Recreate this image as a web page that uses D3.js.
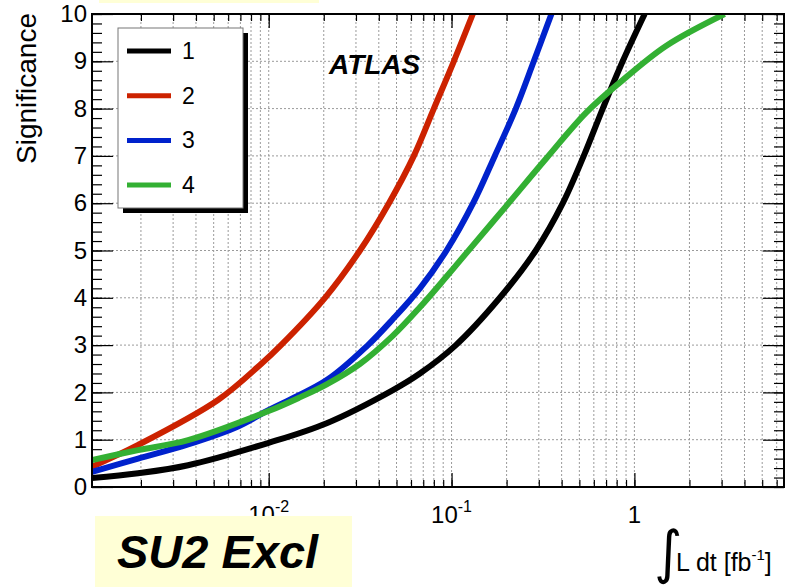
<!DOCTYPE html>
<html>
<head>
<meta charset="utf-8">
<script src="https://cdn.jsdelivr.net/npm/d3@7"></script>
<style>
  body { margin: 0; background: #fff; }
  text { font-family: "Liberation Sans", Arial, Helvetica, sans-serif; }
</style>
</head>
<body>
<div id="chart"></div>
<script>
// significance vs integrated luminosity, SU2 exclusive
var lumi1 = [0.00108, 0.00193, 0.00362, 0.0099, 0.02075, 0.0478, 0.0671, 0.1056, 0.1836, 0.2888, 0.4058, 0.5284, 0.6714, 0.863, 1.138]
var sig1  = [0.19, 0.29, 0.46, 0.93, 1.35, 2.05, 2.4, 3.0, 4.0, 5.0, 6.0, 7.0, 8.0, 9.0, 10.0]

var lumi2 = [0.00108, 0.00193, 0.00528, 0.00896, 0.01167, 0.02031, 0.03155, 0.04544, 0.0622, 0.08, 0.1029, 0.1307]
var sig2  = [0.43, 0.89, 1.84, 2.58, 3.0, 4.0, 5.0, 6.0, 7.0, 8.0, 9.0, 10.0]

var lumi3 = [0.00108, 0.00193, 0.00362, 0.0068, 0.0099, 0.02075, 0.0349, 0.0478, 0.0671, 0.0939, 0.1312, 0.1724, 0.2246, 0.2817, 0.3518]
var sig3  = [0.32, 0.6, 0.9, 1.28, 1.62, 2.26, 3.0, 3.55, 4.2, 5.0, 6.0, 7.0, 8.0, 9.0, 10.0]

var lumi4 = [0.00108, 0.00193, 0.00362, 0.0099, 0.0149, 0.02075, 0.0315, 0.0478, 0.0671, 0.0939, 0.1208, 0.2, 0.3302, 0.5465, 0.8316, 1.496, 3.113]
var sig4  = [0.57, 0.78, 0.99, 1.6, 1.9, 2.17, 2.6, 3.2, 3.8, 4.45, 4.95, 5.95, 6.95, 7.92, 8.55, 9.33, 10.0]

var seriesNames = ["1", "2", "3", "4"]
var seriesColors = ["#000000", "#cc2200", "#0022cc", "#33b033"]

var xTickVals = [0.01, 0.1, 1]
var xTickBase = ["10", "10", "1"]
var xTickExp  = ["-2", "-1", ""]
var yTickVals = [0, 1, 2, 3, 4, 5, 6, 7, 8, 9, 10]

var W = 798, H = 587
var padL = 92, padR = 784, padT = 14, padB = 487

var svg = d3.select("#chart").append("svg")
    .attr("width", W)
    .attr("height", H)

var x = d3.scaleLog().domain([0.00108, 6.58]).range([padL, padR])
var y = d3.scaleLinear().domain([0, 10]).range([padB, padT])

// grid (dotted)
var grid = svg.append("g")
grid.selectAll("line.vx")
  .data(x.ticks())
  .enter().append("line")
    .attr("x1", function(d) { return x(d) }).attr("x2", function(d) { return x(d) })
    .attr("y1", padT).attr("y2", padB)
    .attr("stroke", "#9a9a9a").attr("stroke-width", 1).attr("stroke-dasharray", "2,2")
grid.selectAll("line.hy")
  .data(yTickVals.slice(1, -1))
  .enter().append("line")
    .attr("x1", padL).attr("x2", padR)
    .attr("y1", function(d) { return y(d) }).attr("y2", function(d) { return y(d) })
    .attr("stroke", "#9a9a9a").attr("stroke-width", 1).attr("stroke-dasharray", "2,2")

// ticks on all four sides
function noText(g) { g.select(".domain").remove(); g.selectAll("text").remove() }

svg.append("g").attr("transform", "translate(0," + padB + ")")
  .call(d3.axisBottom(x).tickValues(x.ticks()).tickSize(-7).tickFormat("")).call(noText)
svg.append("g").attr("transform", "translate(0," + padB + ")")
  .call(d3.axisBottom(x).tickValues(xTickVals).tickSize(-14).tickFormat("")).call(noText)
svg.append("g").attr("transform", "translate(0," + padT + ")")
  .call(d3.axisTop(x).tickValues(x.ticks()).tickSize(-7).tickFormat("")).call(noText)
svg.append("g").attr("transform", "translate(0," + padT + ")")
  .call(d3.axisTop(x).tickValues(xTickVals).tickSize(-14).tickFormat("")).call(noText)

svg.append("g").attr("transform", "translate(" + padL + ",0)")
  .call(d3.axisLeft(y).ticks(50).tickSize(-10).tickFormat("")).call(noText)
svg.append("g").attr("transform", "translate(" + padR + ",0)")
  .call(d3.axisRight(y).ticks(50).tickSize(-10).tickFormat("")).call(noText)
svg.append("g").attr("transform", "translate(" + padR + ",0)")
  .call(d3.axisRight(y).tickValues(yTickVals).tickSize(-21).tickFormat("")).call(noText)

var yAxis = svg.append("g").attr("transform", "translate(" + padL + ",0)")
  .call(d3.axisLeft(y).tickValues(yTickVals).tickSize(-21).tickPadding(5).tickFormat(d3.format("d")))
yAxis.select(".domain").remove()
yAxis.selectAll("text")
  .style("font-family", "'Liberation Sans', Arial, sans-serif")
  .style("font-size", "24px")
  .attr("fill", "#000")
svg.selectAll(".tick line").attr("stroke", "#000").attr("stroke-width", 1.2)

// x tick labels with exponents
var xl = svg.append("g")
xTickVals.forEach(function(v, i) {
  var t = xl.append("text")
    .attr("x", x(v)).attr("y", 523)
    .attr("text-anchor", "middle")
    .style("font-size", "24px")
  t.append("tspan").text(xTickBase[i])
  if (xTickExp[i] != "") {
    t.append("tspan").attr("dy", -11).style("font-size", "16px").text(xTickExp[i])
  }
})

// curves
svg.append("clipPath").attr("id", "clip")
  .append("rect").attr("x", padL).attr("y", padT).attr("width", padR - padL).attr("height", padB - padT)

var line = d3.line()
  .x(function(d) { return x(d[0]) })
  .y(function(d) { return y(d[1]) })
  .curve(d3.curveCatmullRom.alpha(0.5))

var allSeries = [d3.zip(lumi1, sig1), d3.zip(lumi2, sig2), d3.zip(lumi3, sig3), d3.zip(lumi4, sig4)]
var curves = svg.append("g").attr("clip-path", "url(#clip)")
allSeries.forEach(function(s, i) {
  curves.append("path")
    .attr("d", line(s))
    .attr("fill", "none")
    .attr("stroke", seriesColors[i])
    .attr("stroke-width", 6)
})

// frame
svg.append("rect")
  .attr("x", padL).attr("y", padT).attr("width", padR - padL).attr("height", padB - padT)
  .attr("fill", "none").attr("stroke", "#000").attr("stroke-width", 2)

// legend
var lg = svg.append("g")
lg.append("rect").attr("x", 123).attr("y", 33).attr("width", 125).attr("height", 180).attr("fill", "#000")
lg.append("rect").attr("x", 118).attr("y", 28).attr("width", 125).attr("height", 180)
  .attr("fill", "#fff").attr("stroke", "#777").attr("stroke-width", 1)
seriesNames.forEach(function(n, i) {
  var yy = 51 + i * 44.7
  lg.append("line").attr("x1", 127).attr("x2", 171).attr("y1", yy).attr("y2", yy)
    .attr("stroke", seriesColors[i]).attr("stroke-width", 5)
  lg.append("text").attr("x", 182).attr("y", yy + 8).style("font-size", "23px").text(n)
})

// ATLAS label
svg.append("text").attr("x", 329).attr("y", 74)
  .style("font-size", "28px").style("font-weight", "bold").style("font-style", "italic")
  .text("ATLAS")

// axis titles
svg.append("text")
  .attr("transform", "translate(36,13) rotate(-90)")
  .attr("text-anchor", "end")
  .style("font-size", "28px")
  .text("Significance")

svg.append("text").attr("x", 654).attr("y", 572)
  .attr("transform", "translate(0,-40) scale(1,1.07)")
  .style("font-family", "'DejaVu Sans', sans-serif")
  .style("font-size", "54px")
  .text("\u222B")
var xt = svg.append("text").attr("x", 676).attr("y", 571).style("font-size", "25px")
xt.append("tspan").text("L dt [fb")
xt.append("tspan").attr("dy", -11).style("font-size", "15px").text("-1")
xt.append("tspan").attr("dy", 11).text("]")

// yellow boxes
svg.append("rect").attr("x", 99).attr("y", -20).attr("width", 220).attr("height", 23).attr("fill", "#ffffd6")
svg.append("rect").attr("x", 95).attr("y", 516).attr("width", 257).attr("height", 80).attr("fill", "#ffffd6")
svg.append("text").attr("x", 117).attr("y", 568)
  .style("font-size", "47px").style("font-weight", "bold").style("font-style", "italic")
  .text("SU2 Excl")
</script>
</body>
</html>
